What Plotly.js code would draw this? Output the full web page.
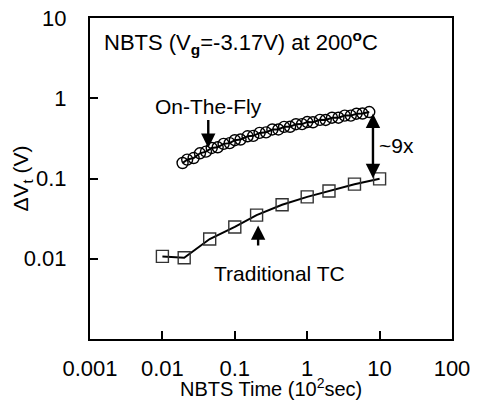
<!DOCTYPE html>
<html>
<head>
<meta charset="utf-8">
<script src="https://cdn.plot.ly/plotly-3.0.1.min.js"></script>
<style>html,body{margin:0;padding:0;background:#fff;}#chart{width:478px;height:404px;}</style>
</head>
<body>
<div id="chart"></div>
<script>
// On-The-Fly measurement (circles)
const otfTime = [0.019, 0.022, 0.027, 0.033, 0.040, 0.048, 0.058, 0.070, 0.085, 0.10, 0.12, 0.15, 0.18, 0.22, 0.27, 0.33, 0.40, 0.48, 0.58, 0.70, 0.85, 1.0, 1.2, 1.5, 1.8, 2.2, 2.7, 3.3, 4.0, 4.8, 5.8, 7.2];
const otfDvt  = [0.156, 0.172, 0.180, 0.206, 0.216, 0.240, 0.245, 0.270, 0.276, 0.300, 0.306, 0.336, 0.340, 0.370, 0.376, 0.408, 0.408, 0.440, 0.441, 0.475, 0.476, 0.505, 0.502, 0.538, 0.536, 0.572, 0.572, 0.608, 0.608, 0.642, 0.645, 0.673];
// Traditional TC measurement (squares)
const tcTime = [0.01, 0.02, 0.045, 0.1, 0.2, 0.45, 1, 2, 4.5, 10];
const tcDvt  = [0.0107, 0.0103, 0.0176, 0.0249, 0.035, 0.047, 0.059, 0.070, 0.085, 0.099];
// Axis ticks
const xTickVals = [0.001, 0.01, 0.1, 1, 10, 100];
const xTickText = ['0.001', '0.01', '0.1', '1', '10', '100'];
const yTickVals = [0.01, 0.1, 1, 10];
const yTickText = ['0.01', '0.1', '1', '10'];

const FONT = '"Liberation Sans", Arial, Helvetica, sans-serif';
const L = Math.log10;
const TXT = {family: FONT, size: 21, color: '#000'};

const traces = [
  {x: otfTime, y: otfDvt, type: 'scatter', mode: 'lines+markers',
   line: {color: '#000', width: 2},
   marker: {symbol: 'circle-open', size: 11, color: '#000', line: {width: 1.4, color: '#000'}},
   cliponaxis: false, showlegend: false},
  {x: tcTime, y: tcDvt, type: 'scatter', mode: 'lines+markers',
   line: {color: '#000', width: 2},
   marker: {symbol: 'square-open', size: 12, color: '#333', line: {width: 1.4, color: '#333'}},
   cliponaxis: false, showlegend: false}
];

const arrowBase = {showarrow: true, arrowhead: 2, arrowsize: 1.2, arrowwidth: 2.4, arrowcolor: '#000', xref: 'x', yref: 'y', axref: 'x', ayref: 'y', text: ''};

const layout = {
  width: 478, height: 404,
  margin: {l: 90, r: 26, t: 18, b: 65},
  paper_bgcolor: '#fff', plot_bgcolor: '#fff',
  font: TXT,
  xaxis: {
    type: 'log', range: [-3, 2], tickmode: 'array', tickvals: xTickVals, ticktext: xTickText,
    ticks: 'inside', ticklen: 8, tickwidth: 2, tickcolor: '#000',
    showline: true, linewidth: 2, linecolor: '#000', mirror: true,
    showgrid: false, zeroline: false, ticklabelstandoff: 9,
    tickfont: {family: FONT, size: 22, color: '#000'},
    automargin: false
  },
  yaxis: {
    type: 'log', range: [-3, 1], tickmode: 'array', tickvals: yTickVals, ticktext: yTickText,
    ticks: 'inside', ticklen: 8, tickwidth: 2, tickcolor: '#000',
    showline: true, linewidth: 2, linecolor: '#000', mirror: true,
    showgrid: false, zeroline: false, ticklabelstandoff: 17,
    tickfont: {family: FONT, size: 22, color: '#000'},
    automargin: false
  },
  annotations: [
    // axis titles
    {xref: 'paper', yref: 'paper', x: 0.5, y: -0.197, xanchor: 'center', yanchor: 'bottom', showarrow: false,
     text: 'NBTS Time (10<sup>2</sup>sec)', font: {family: FONT, size: 20, color: '#000'}},
    {xref: 'paper', yref: 'paper', x: -0.188, y: 0.5, xanchor: 'center', yanchor: 'middle', showarrow: false,
     textangle: -90, text: '\u0394V<sub>t</sub> (V)', font: TXT},
    // in-plot labels
    {xref: 'paper', yref: 'paper', x: 0.033, y: 0.925, xanchor: 'left', yanchor: 'middle', showarrow: false,
     text: 'NBTS (V<sub><b>g</b></sub>=-3.17V) at 200<sup><b>o</b></sup>C', font: {family: FONT, size: 22, color: '#000'}},
    {xref: 'x', yref: 'y', x: L(0.044), y: L(0.79), xanchor: 'center', yanchor: 'middle', showarrow: false,
     text: 'On-The-Fly', font: TXT},
    Object.assign({}, arrowBase, {x: L(0.043), y: L(0.24), ax: L(0.043), ay: L(0.56)}),
    {xref: 'x', yref: 'y', x: L(0.42), y: L(0.0066), xanchor: 'center', yanchor: 'middle', showarrow: false,
     text: 'Traditional TC', font: TXT},
    Object.assign({}, arrowBase, {x: L(0.21), y: L(0.026), ax: L(0.21), ay: L(0.014)}),
    Object.assign({}, arrowBase, {x: L(8.1), y: L(0.101), ax: L(8.1), ay: L(0.674), arrowside: 'end+start'}),
    {xref: 'x', yref: 'y', x: L(9.2), y: L(0.26), xanchor: 'left', yanchor: 'middle', showarrow: false,
     text: '~9x', font: TXT}
  ]
};

Plotly.newPlot('chart', traces, layout, {displayModeBar: false, staticPlot: true});
</script>
</body>
</html>
